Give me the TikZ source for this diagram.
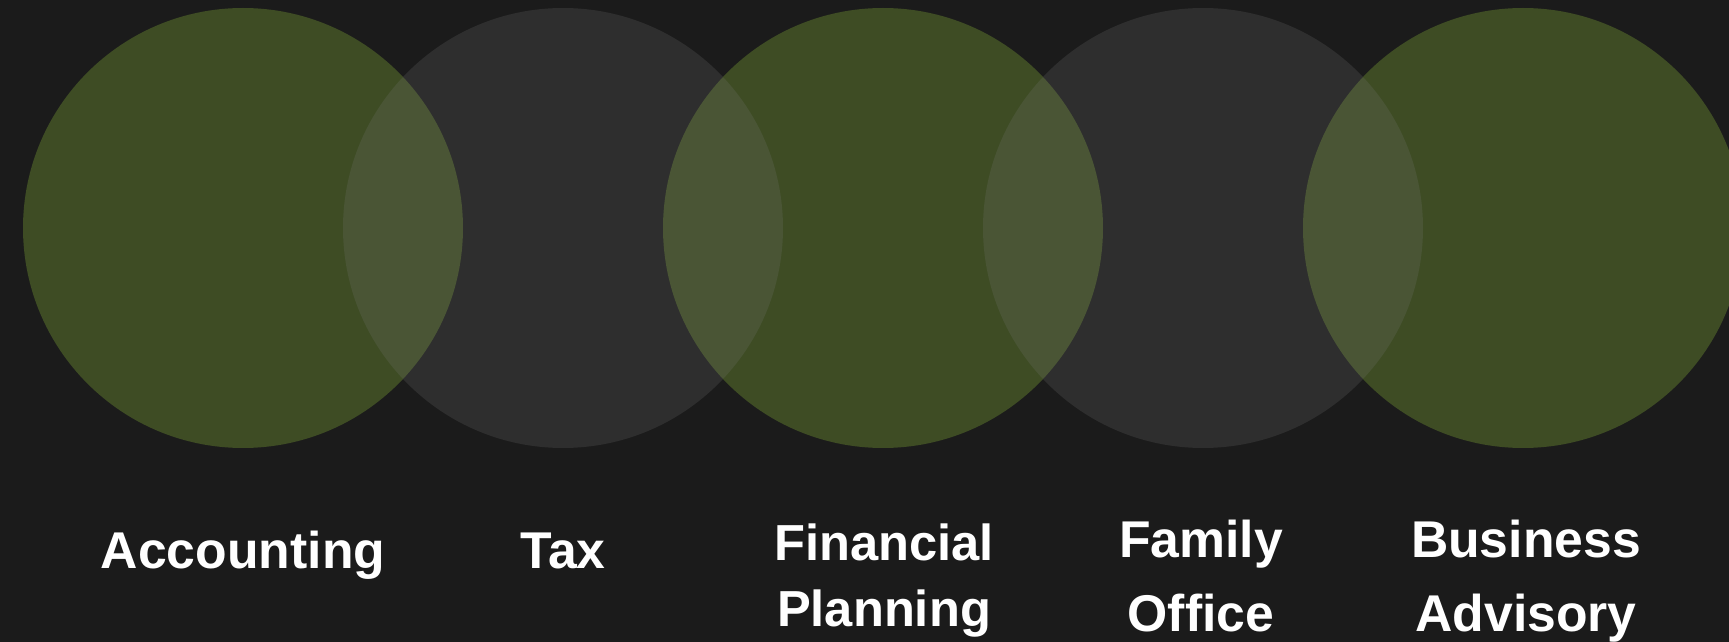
\documentclass[tikz,border=0pt]{standalone}
\usepackage{fontspec}
\setmainfont{Liberation Sans}
\usepackage{tikz}
\usetikzlibrary{calc}

\definecolor{bg}{HTML}{1B1B1B}
\definecolor{leaf}{HTML}{3E4C24}
\definecolor{mist}{HTML}{7A7A7A}

\begin{document}
\begin{tikzpicture}[x=0.01cm,y=0.01cm,
	greendisc/.style={fill=leaf},
	greydisc/.style={fill=mist,fill opacity=0.2},
	service/.style={text=white,inner sep=0pt,align=center,anchor=base,
		font=\bfseries\fontsize{14.7}{21.3}\selectfont}]

	\useasboundingbox (0,0) rectangle (1729,642);
	\fill[bg] (0,0) rectangle (1729,642); %background

	\coordinate (acc) at (243,414);
	\coordinate (tax) at (563,414);
	\coordinate (fin) at (883,414);
	\coordinate (fam) at (1203,414);
	\coordinate (bus) at (1523,414);

	% green circles first, grey ones lay over them
	\fill[greendisc] (acc) circle[radius=220];
	\fill[greendisc] (fin) circle[radius=220];
	\fill[greendisc] (bus) circle[radius=220];
	\fill[greydisc] (tax) circle[radius=220];
	\fill[greydisc] (fam) circle[radius=220];

	% two line labels sit on the baseline of their last line
	\node[service] (accText) at (243,73) {Accounting};
	\node[service] (taxText) at (563,73) {Tax};
	\node[service,font=\bfseries\fontsize{14.4}{18.8}\selectfont] (finText) at (884,15) {Financial\\Planning};
	\node[service] (famText) at (1201,10) {Family\\Office};
	\node[service] (busText) at (1526,10) {Business\\Advisory};

\end{tikzpicture}
\end{document}
